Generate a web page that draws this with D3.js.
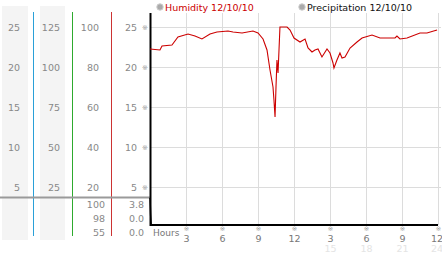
<!DOCTYPE html>
<html>
<head>
<meta charset="utf-8">
<script src="https://cdn.jsdelivr.net/npm/d3@7"></script>
<style>
  body { margin: 0; background: #fff; }
  text { font-family: "DejaVu Sans", sans-serif; }
</style>
</head>
<body>
<div id="chart"></div>
<script>
// hours since midnight, humidity %
var hours = [0, 0.83, 1, 1.83, 2.33, 3.17, 3.75, 4.33, 5, 5.58, 6.5, 6.92, 7.67, 8.58, 9, 9.42, 9.75, 10, 10.25, 10.33, 10.42, 10.5, 10.58, 10.67, 10.75, 10.83, 11.42, 11.67, 12, 12.5, 12.92, 13.17, 13.5, 13.75, 14, 14.33, 14.75, 15, 15.25, 15.33, 15.58, 15.83, 16, 16.25, 16.67, 17.25, 17.67, 18.5, 19.17, 20.42, 20.58, 20.83, 21.42, 22.5, 23.08, 23.92];
var humidity = [89, 88.5, 90.5, 91, 95, 96.5, 95.5, 94, 96.5, 97.5, 98, 97.5, 97, 98, 97, 94, 88.5, 78.5, 70, 63.5, 55, 70, 83.5, 77, 88.5, 100, 100, 98.5, 94.5, 92.5, 94, 89.5, 87.5, 88.5, 89, 85, 89, 87, 82, 79.5, 83.5, 87, 84.5, 85, 89.5, 92.5, 94.5, 96, 94.5, 94.5, 95.5, 94, 94.5, 97, 97, 98.5];

var precipHours = [0, 0.05, 0.1, 24];
var precip = [3.8, 1.5, 0, 0];

// left side scale columns
var col1 = [25, 20, 15, 10, 5];
var col2 = [125, 100, 75, 50, 25];
var col3 = [100, 80, 60, 40, 20];
var col4 = [25, 20, 15, 10, 5];
var humStats = ["100", "98", "55"];
var precipStats = ["3.8", "0.0", "0.0"];

var xTicks = [3, 6, 9, 12, 15, 18, 21, 24];
var xTickLabels = ["3", "6", "9", "12", "3", "6", "9", "12"];
var xFaint = ["", "", "", "", "15", "18", "21", "24"];

var width = 442, height = 253;

var svg = d3.select("#chart").append("svg")
    .attr("width", width)
    .attr("height", height);

var x = d3.scaleLinear().domain([0, 24]).range([150, 438]);
var y = d3.scaleLinear().domain([0, 25]).range([227, 27]);
var yHum = d3.scaleLinear().domain([0, 100]).range([227, 27]);
var yPrec = d3.scaleLinear().domain([0, 3.8]).range([225, 198]);

// gray column backgrounds
svg.append("rect").attr("x", 2).attr("y", 6).attr("width", 26).attr("height", 234).attr("fill", "#f4f4f4");
svg.append("rect").attr("x", 40).attr("y", 6).attr("width", 25).attr("height", 234).attr("fill", "#f4f4f4");

// colored separators
var seps = [{ x: 33.5, c: "#2aa0d8" }, { x: 72.5, c: "#2eaa2e" }, { x: 111.5, c: "#cc3333" }];
svg.selectAll(".sep").data(seps).enter().append("line")
    .attr("x1", d => d.x).attr("x2", d => d.x)
    .attr("y1", 12).attr("y2", 236)
    .attr("stroke", d => d.c).attr("stroke-width", 1);

// gridlines
var grid = svg.append("g").attr("stroke", "#dcdcdc").attr("stroke-width", 1);
grid.selectAll(".h").data(col4).enter().append("line")
    .attr("x1", 150).attr("x2", 441)
    .attr("y1", d => Math.round(y(d)) + 0.5).attr("y2", d => Math.round(y(d)) + 0.5);
grid.selectAll(".v").data(xTicks).enter().append("line")
    .attr("x1", d => Math.round(x(d)) + 0.5).attr("x2", d => Math.round(x(d)) + 0.5)
    .attr("y1", 13).attr("y2", 225);

// left labels, one column per scale
function column(data, xr, cls) {
    svg.selectAll("." + cls).data(data).enter().append("text")
        .attr("x", xr).attr("y", (d, i) => y(col4[i]) + 4)
        .attr("text-anchor", "end")
        .attr("font-size", "9.5px").attr("fill", "#888")
        .text(d => d);
}
column(col1, 20, "c1");
column(col2, 60, "c2");
column(col3, 99, "c3");
column(col4, 137, "c4");

// ※ markers on y axis
svg.selectAll(".ym").data(col4).enter().append("text")
    .attr("x", 145).attr("y", d => y(d) + 3)
    .attr("text-anchor", "middle").attr("font-size", "7px").attr("fill", "#999")
    .text("※");

// separator between humidity and precipitation
svg.append("line").attr("x1", 0).attr("x2", 150).attr("y1", 197.5).attr("y2", 197.5)
    .attr("stroke", "#9a9a9a").attr("stroke-width", 2);

// stats under separator
var statY = [204, 218, 232];
svg.selectAll(".hs").data(humStats).enter().append("text")
    .attr("x", 105).attr("y", (d, i) => statY[i] + 3.5)
    .attr("text-anchor", "end").attr("font-size", "9.5px").attr("fill", "#888")
    .text(d => d);
svg.selectAll(".ps").data(precipStats).enter().append("text")
    .attr("x", 144).attr("y", (d, i) => statY[i] + 3.5)
    .attr("text-anchor", "end").attr("font-size", "9.5px").attr("fill", "#888")
    .text(d => d);

// axes lines
svg.append("line").attr("x1", 150.5).attr("x2", 150.5).attr("y1", 13).attr("y2", 226)
    .attr("stroke", "#000").attr("stroke-width", 2);
svg.append("line").attr("x1", 150).attr("x2", 438).attr("y1", 225).attr("y2", 225)
    .attr("stroke", "#000").attr("stroke-width", 2);

// precipitation line
var precLine = d3.line().x(d => x(d[0])).y(d => yPrec(d[1]));
svg.append("path")
    .datum(precipHours.map((h, i) => [h, precip[i]]))
    .attr("d", precLine)
    .attr("fill", "none").attr("stroke", "#000").attr("stroke-width", 1.5);

// humidity line
var humLine = d3.line().x(d => x(d[0])).y(d => yHum(d[1]));
svg.append("path")
    .datum(hours.map((h, i) => [h, humidity[i]]))
    .attr("d", humLine)
    .attr("fill", "none").attr("stroke", "#cc0000").attr("stroke-width", 1.1);

// x axis labels
svg.append("text").attr("x", 153).attr("y", 236)
    .attr("font-size", "9px").attr("fill", "#777").text("Hours");
svg.selectAll(".xm").data(xTicks).enter().append("text")
    .attr("x", d => x(d) + 0.5).attr("y", 231)
    .attr("text-anchor", "middle").attr("font-size", "6.5px").attr("fill", "#999")
    .text("※");
svg.selectAll(".xl").data(xTicks).enter().append("text")
    .attr("x", d => x(d) + (d === 24 ? -1 : 0.5)).attr("y", 241.5)
    .attr("text-anchor", "middle").attr("font-size", "9.5px").attr("fill", "#777")
    .text((d, i) => xTickLabels[i]);
svg.selectAll(".xf").data(xTicks).enter().append("text")
    .attr("x", d => x(d) + (d === 24 ? -1 : 0.5)).attr("y", 251.5)
    .attr("text-anchor", "middle").attr("font-size", "9.5px").attr("fill", "#e4e4e4")
    .text((d, i) => xFaint[i]);

// legend
var legend = [{ name: "Humidity 12/10/10", x: 160, c: "#cc0000" }, { name: "Precipitation 12/10/10", x: 302, c: "#111" }];
var lg = svg.selectAll(".lg").data(legend).enter().append("g");
lg.append("circle").attr("cx", d => d.x).attr("cy", 7).attr("r", 3.2)
    .attr("fill", "#aaa").attr("stroke", "#ccc");
lg.append("text").attr("x", d => d.x + 5).attr("y", 11)
    .attr("font-size", "9.5px").attr("fill", d => d.c)
    .text(d => d.name);
</script>
</body>
</html>
